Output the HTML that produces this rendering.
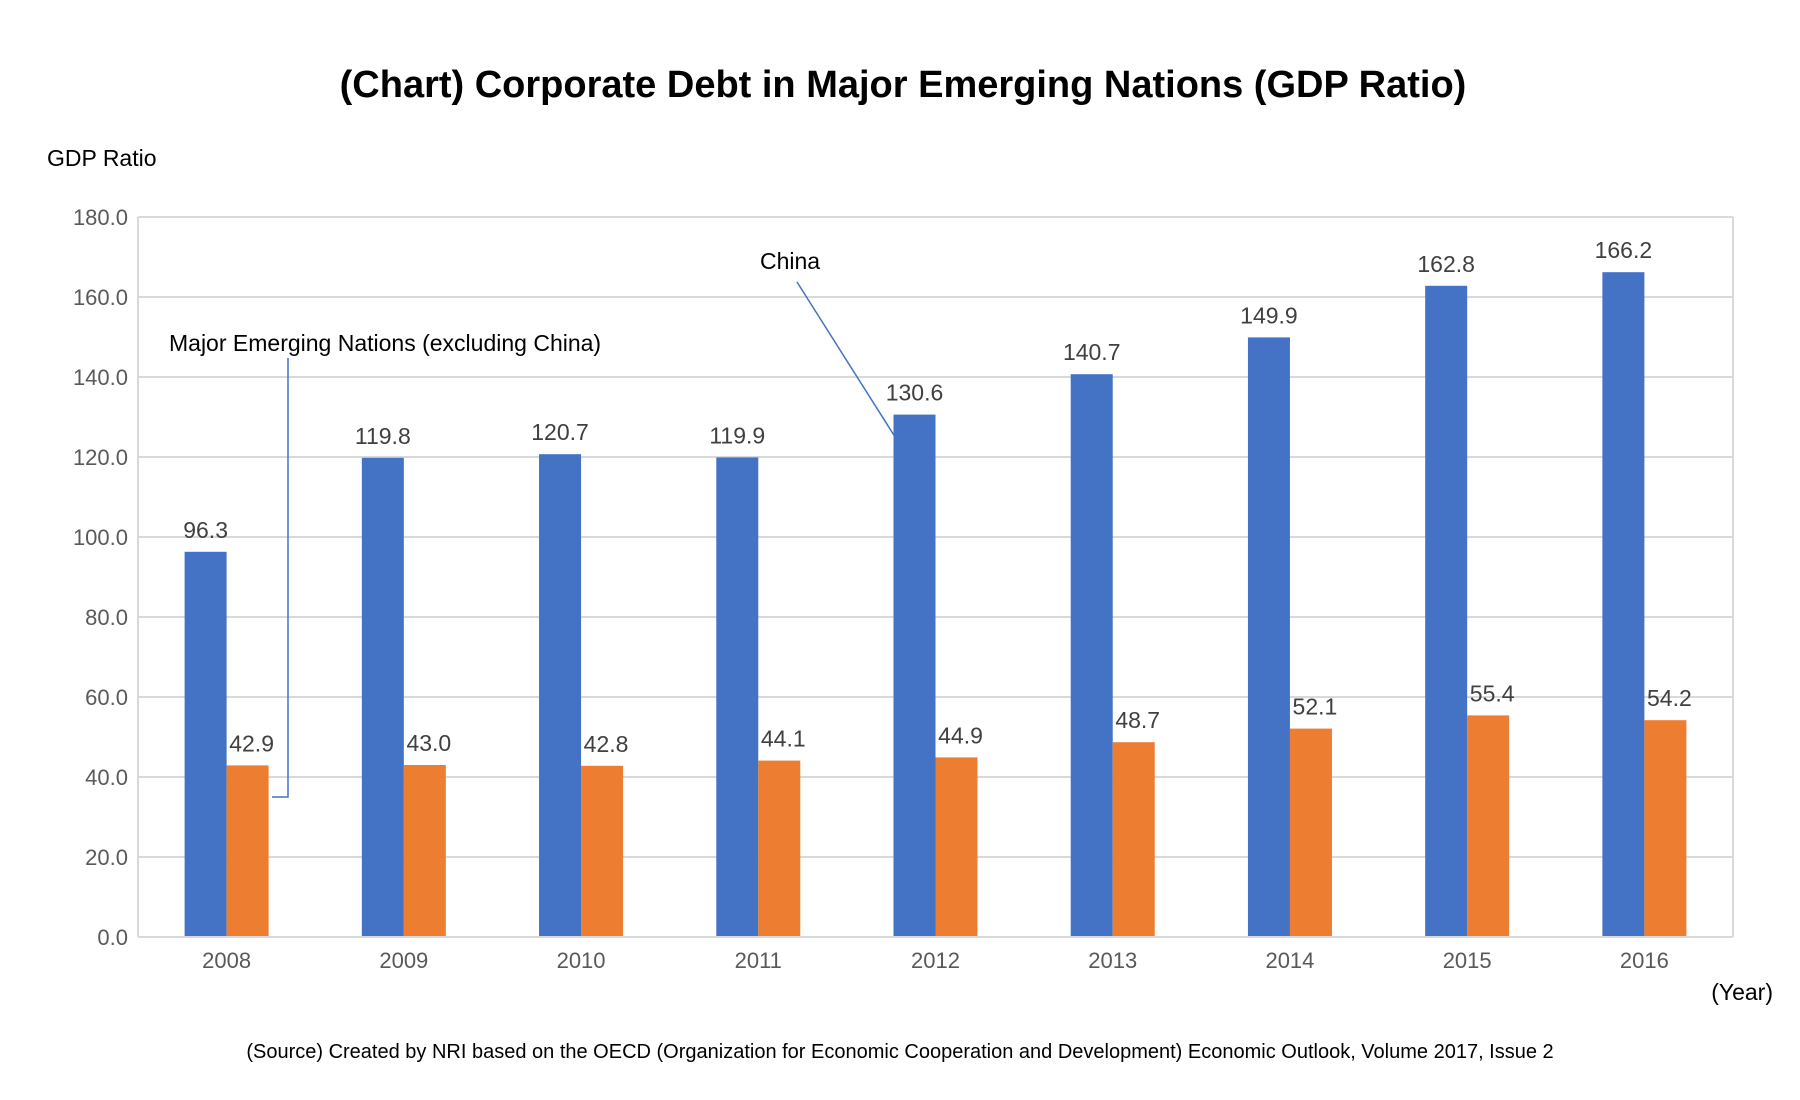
<!DOCTYPE html>
<html><head><meta charset="utf-8"><style>
body{margin:0;background:#fff;}
svg{display:block;font-family:"Liberation Sans",sans-serif;}
.tick{font-family:"Liberation Sans Narrow","Liberation Sans",sans-serif;font-size:22px;fill:#595959;}
.val{font-family:"Liberation Sans Narrow","Liberation Sans",sans-serif;font-size:23px;fill:#404040;}
</style></head><body>
<svg id="chart" width="1800" height="1100" xmlns="http://www.w3.org/2000/svg">
<rect width="1800" height="1100" fill="#fff"/>
<text x="903" y="97" text-anchor="middle" font-size="38" font-weight="bold" fill="#000">(Chart) Corporate Debt in Major Emerging Nations (GDP Ratio)</text>
<text x="47" y="166" font-size="23" fill="#000">GDP Ratio</text>
<text x="1773" y="1000" font-size="23" text-anchor="end" fill="#000">(Year)</text>
<text x="900" y="1058" font-size="20" text-anchor="middle" fill="#000">(Source) Created by NRI based on the OECD (Organization for Economic Cooperation and Development) Economic Outlook, Volume 2017, Issue 2</text>
<g id="grid"></g><g id="bars"></g><g id="labels"></g>
<text x="760" y="269" font-size="23" fill="#000">China</text>
<line x1="797" y1="282" x2="897" y2="440" stroke="#4472C4" stroke-width="1.5"/>
<text x="169" y="351" font-size="23" fill="#000">Major Emerging Nations (excluding China)</text>
<polyline points="288,358 288,797 272,797" fill="none" stroke="#4472C4" stroke-width="1.5"/>
</svg>
<script>
const categories=["2008","2009","2010","2011","2012","2013","2014","2015","2016"];
const china=[96.3,119.8,120.7,119.9,130.6,140.7,149.9,162.8,166.2];
const emerging=[42.9,43.0,42.8,44.1,44.9,48.7,52.1,55.4,54.2];
const ticks=[0,20,40,60,80,100,120,140,160,180];
const NS="http://www.w3.org/2000/svg";
const L=138,R=1733,T=217,B=937,YMAX=180;
const y=v=>B-(v/YMAX)*(B-T);
const band=(R-L)/categories.length;
const cx=i=>L+band*(i+0.5);
const BW=42;
function mk(t,a,p){const e=document.createElementNS(NS,t);for(const k in a)e.setAttribute(k,a[k]);p.appendChild(e);return e;}
const grid=document.getElementById('grid'),bars=document.getElementById('bars'),labels=document.getElementById('labels');
ticks.forEach(t=>{
 const ln=mk('line',{x1:L,x2:R,y1:y(t),y2:y(t),stroke:'#d9d9d9','stroke-width':2},grid);
 
 
 const tx=mk('text',{x:L-10,y:y(t)+8,'text-anchor':'end',class:'tick'},grid);
 tx.textContent=t.toFixed(1);
 
 
});
const vax=mk('line',{x1:L,x2:L,y1:T,y2:B,stroke:'#d9d9d9','stroke-width':2},grid);


const rax=mk('line',{x1:R,x2:R,y1:T,y2:B,stroke:'#d9d9d9','stroke-width':2},grid);


categories.forEach((c,i)=>{
 const b1=mk('rect',{x:cx(i)-BW,y:y(china[i]),width:BW,height:B-y(china[i]),fill:'#4472C4'},bars);
 
 
 const b2=mk('rect',{x:cx(i),y:y(emerging[i]),width:BW,height:B-y(emerging[i]),fill:'#ED7D31'},bars);
 
 
 const l1=mk('text',{x:cx(i)-BW/2,y:y(china[i])-14,'text-anchor':'middle',class:'val'},labels);
 l1.textContent=china[i].toFixed(1);
 
 
 const l2=mk('text',{x:cx(i)+BW/2+4,y:y(emerging[i])-14,'text-anchor':'middle',class:'val'},labels);
 l2.textContent=emerging[i].toFixed(1);
 
 
 const xl=mk('text',{x:cx(i),y:B+31,'text-anchor':'middle',class:'tick'},labels);
 xl.textContent=c;
 
 
});
const base=mk('line',{x1:L,x2:R,y1:B,y2:B,stroke:'#d9d9d9','stroke-width':2},bars);


</script>
</body></html>
